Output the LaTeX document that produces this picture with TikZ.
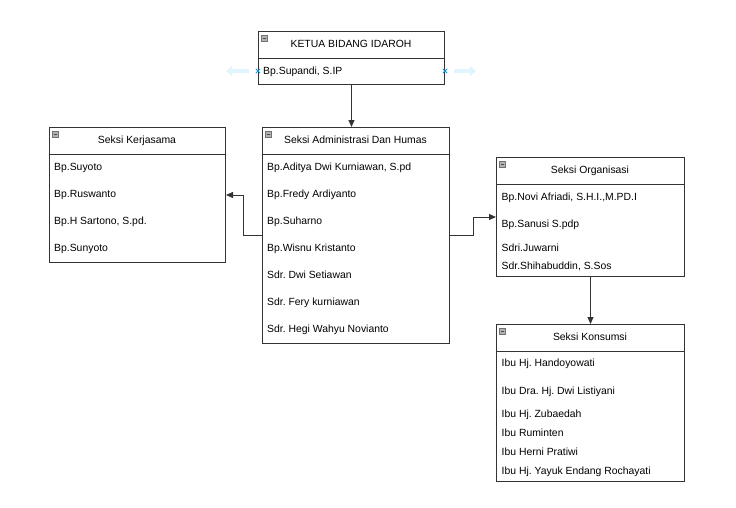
\documentclass[tikz,border=0pt]{standalone}
\usepackage{fontspec}
\setmainfont{Liberation Sans}
\usetikzlibrary{arrows.meta,shapes.misc}
\begin{document}
\frenchspacing
\begin{tikzpicture}[x=1pt,y=-1pt,
		every node/.style={font=\fontsize{10.4}{12}\selectfont,inner sep=0pt,text height=7.5pt,text depth=2pt},
		box/.style 2 args={draw=black!80,line width=1pt,fill=white,anchor=north west,
			minimum width=#1,minimum height=#2},
		title/.style={anchor=center},
		row/.style={anchor=west},
		icon/.style={draw=black!55,fill=black!30,line width=0.6pt,minimum size=6pt,text height=,text depth=,
			path picture={\draw[black!70,line width=1pt] ([xshift=1.2pt]path picture bounding box.west) -- ([xshift=-1.2pt]path picture bounding box.east);}},
		divider/.style={draw=black!80,line width=1pt},
		arrow/.style={draw=black!80,line width=1pt,-{Triangle[length=7pt,width=6pt]}},
		hover/.style={draw=cyan!12,line width=4pt,-{Triangle[length=6pt,width=10pt]}},
		xmark/.style={cross out,draw=cyan!80!blue,line width=0.8pt,minimum size=3.5pt,text height=,text depth=}]
\useasboundingbox (0,0) rectangle (736,507);
\node[box={186pt}{53pt}] (ketua) at (258,31) {};
\draw[divider] (ketua.north west) ++(0,27) -- ++(186,0);
\node[icon] (ketuaI) at (264.5,38) {};
\node[title] (ketuaT) at (351,44.5) {KETUA BIDANG IDAROH};
\node[row] (supandi) at (263,71.5) {Bp.Supandi, S.IP};
\coordinate (hovL1) at (249,71);
\coordinate (hovL2) at (226,71);
\coordinate (hovR1) at (454,71);
\coordinate (hovR2) at (476,71);
\draw[hover] (hovL1) -- (hovL2);
\draw[hover] (hovR1) -- (hovR2);
\node[xmark] (xL) at (ketua.west |- hovL1) {};
\node[xmark] (xR) at (ketua.east |- hovR1) {};
\node[box={187pt}{216pt}] (admin) at (262,127) {};
\draw[divider] (admin.north west) ++(0,27) -- ++(187,0);
\node[icon] (adminI) at (268.5,134) {};
\node[title] (adminT) at (355.5,140.5) {Seksi Administrasi Dan Humas};
\node[row] (aditya) at (267,167.5) {Bp.Aditya Dwi Kurniawan, S.pd};
\node[row] (fredy) at (267,194.5) {Bp.Fredy Ardiyanto};
\node[row] (suharno) at (267,221.5) {Bp.Suharno};
\node[row] (wisnu) at (267,248.5) {Bp.Wisnu Kristanto};
\node[row] (dwi) at (267,275.5) {Sdr. Dwi Setiawan};
\node[row] (fery) at (267,302.5) {Sdr. Fery kurniawan};
\node[row] (hegi) at (267,329.5) {Sdr. Hegi Wahyu Novianto};
\node[box={176pt}{135pt}] (kerja) at (49,127) {};
\draw[divider] (kerja.north west) ++(0,27) -- ++(176,0);
\node[icon] (kerjaI) at (55.5,134) {};
\node[title] (kerjaT) at (137,140.5) {Seksi Kerjasama};
\node[row] (suyoto) at (54,167.5) {Bp.Suyoto};
\node[row] (ruswanto) at (54,194.5) {Bp.Ruswanto};
\node[row] (sartono) at (54,221.5) {Bp.H Sartono, S.pd.};
\node[row] (sunyoto) at (54,248.5) {Bp.Sunyoto};
\node[box={188pt}{119pt}] (org) at (496,157) {};
\draw[divider] (org.north west) ++(0,27.5) -- ++(188,0);
\node[icon] (orgI) at (502.5,164) {};
\node[title] (orgT) at (590,170.5) {Seksi Organisasi};
\node[row] (novi) at (501.5,198) {Bp.Novi Afriadi, S.H.I.,M.PD.I};
\node[row] (sanusi) at (501.5,224.5) {Bp.Sanusi S.pdp};
\node[row] (juwarni) at (501.5,248.5) {Sdri.Juwarni};
\node[row] (shihab) at (501.5,267) {Sdr.Shihabuddin, S.Sos};
\node[box={188pt}{157pt}] (kons) at (496,324) {};
\draw[divider] (kons.north west) ++(0,27) -- ++(188,0);
\node[icon] (konsI) at (502.5,331) {};
\node[title] (konsT) at (590,337.5) {Seksi Konsumsi};
\node[row] (handoyo) at (501.5,364) {Ibu Hj. Handoyowati};
\node[row] (listiyani) at (501.5,391.5) {Ibu Dra. Hj. Dwi Listiyani};
\node[row] (zubaedah) at (501.5,414.5) {Ibu Hj. Zubaedah};
\node[row] (ruminten) at (501.5,434) {Ibu Ruminten};
\node[row] (herni) at (501.5,452.5) {Ibu Herni Pratiwi};
\node[row] (yayuk) at (501.5,472) {Ibu Hj. Yayuk Endang Rochayati};
% connectors
\draw[arrow] (ketua.south) -- (ketua.south |- admin.north);
\draw[arrow] (admin.west) -- ++(-19,0) |- (kerja.east);
\draw[arrow] (admin.east) -- ++(23,0) |- (org.west);
\draw[arrow] (org.south) -- (kons.north);
\end{tikzpicture}
\end{document}
